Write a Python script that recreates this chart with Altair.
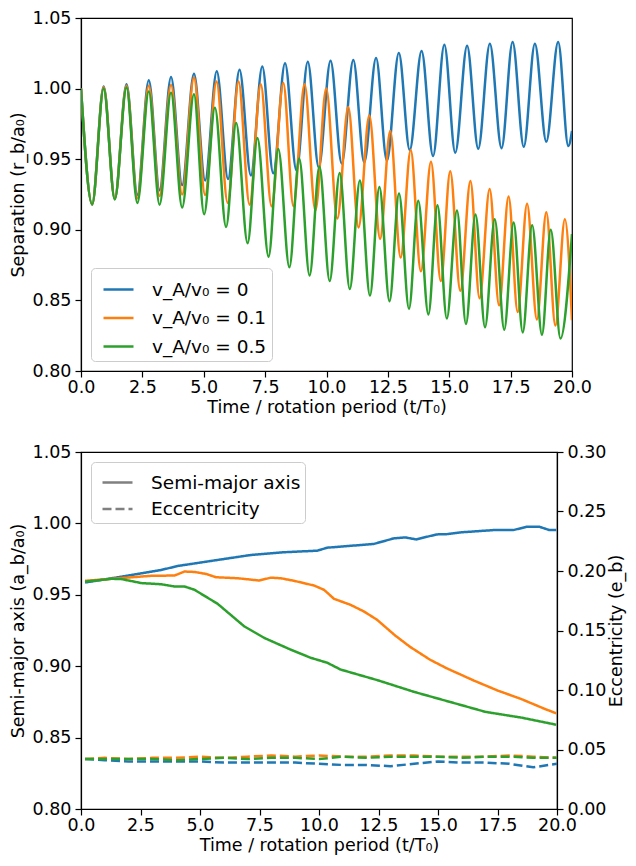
import altair as alt
import pandas as pd

FONT = "DejaVu Sans"
series_labels = ["v_A/v₀ = 0", "v_A/v₀ = 0.1", "v_A/v₀ = 0.5"]
colors = ["#1f77b4", "#ff7f0e", "#2ca02c"]
kinds = ["Semi-major axis", "Eccentricity"]
x_ticks = [0, 2.5, 5, 7.5, 10, 12.5, 15, 17.5, 20]
sep_ticks = [0.80, 0.85, 0.90, 0.95, 1.00, 1.05]
ecc_ticks = [0.0, 0.05, 0.10, 0.15, 0.20, 0.25, 0.30]

# --- Top panel: separation (peaks / troughs) ---
sep_t_0 = [0, 0.453, 0.923, 1.376, 1.854, 2.295, 2.761, 3.20, 3.667, 4.12,
           4.602, 5.056, 5.530, 5.99, 6.457, 6.92, 7.384, 7.83, 8.311, 8.776,
           9.238, 9.683, 10.165, 10.618, 11.092, 11.537, 12.019, 12.46, 12.946, 13.39,
           13.873, 14.34, 14.80, 15.245, 15.727, 16.18, 16.654, 17.13, 17.581, 18.035,
           18.488, 18.953, 19.436, 19.85, 20.0]
sep_v_0 = [1.0, 0.918, 1.0014, 0.922, 1.003, 0.9247, 1.006, 0.928, 1.0083, 0.9316,
           1.0106, 0.935, 1.0122, 0.936, 1.0133, 0.9385, 1.0157, 0.940, 1.018, 0.942,
           1.019, 0.9443, 1.0197, 0.947, 1.0203, 0.9477, 1.0217, 0.9489, 1.0253, 0.9565,
           1.0267, 0.9523, 1.031, 0.9546, 1.0304, 0.9574, 1.0318, 0.9578, 1.033, 0.9588,
           1.0318, 0.9625, 1.033, 0.9593, 0.970]

sep_t_1 = [0, 0.453, 0.923, 1.376, 1.854, 2.295, 2.761, 3.20, 3.667, 4.12,
           4.602, 5.056, 5.52, 5.975, 6.415, 6.868, 7.32, 7.763, 8.24, 8.653,
           9.106, 9.547, 9.988, 10.44, 10.886, 11.306, 11.743, 12.184, 12.596, 13.02,
           13.43, 13.844, 14.256, 14.656, 15.04, 15.45, 15.863, 16.234, 16.646, 17.03,
           17.417, 17.787, 18.17, 18.57, 18.954, 19.324, 19.71, 20.0]
sep_v_1 = [1.0, 0.918, 1.001, 0.922, 1.002, 0.9224, 1.002, 0.924, 1.0025, 0.925,
           1.0078, 0.9247, 1.005, 0.919, 1.005, 0.9178, 1.003, 0.9167, 1.004, 0.9167,
           1.003, 0.9137, 1.0, 0.908, 0.987, 0.9017, 0.981, 0.8936, 0.970, 0.8803,
           0.9565, 0.8706, 0.9482, 0.8637, 0.9415, 0.8568, 0.9346, 0.8515, 0.9289, 0.8465,
           0.9236, 0.8418, 0.9185, 0.8365, 0.9125, 0.8322, 0.9075, 0.836]

sep_t_2 = [0, 0.453, 0.923, 1.376, 1.854, 2.295, 2.761, 3.20, 3.667, 4.12,
           4.602, 5.015, 5.455, 5.909, 6.32, 6.786, 7.186, 7.64, 8.035, 8.488,
           8.888, 9.312, 9.712, 10.13, 10.536, 10.948, 11.36, 11.77, 12.155, 12.567,
           12.954, 13.36, 13.737, 14.15, 14.52, 14.90, 15.315, 15.68, 16.07, 16.457,
           16.852, 17.24, 17.623, 17.993, 18.377, 18.776, 19.135, 19.53, 20.0]
sep_v_2 = [1.0, 0.918, 1.0, 0.9215, 1.0007, 0.919, 0.998, 0.9178, 0.997, 0.9158,
           0.996, 0.911, 0.9864, 0.902, 0.9756, 0.8905, 0.965, 0.881, 0.9572, 0.8734,
           0.9505, 0.8676, 0.9448, 0.8637, 0.9402, 0.858, 0.935, 0.8534, 0.9303, 0.8494,
           0.9257, 0.8441, 0.9206, 0.840, 0.9174, 0.8372, 0.9137, 0.8333, 0.9109, 0.831,
           0.9075, 0.8292, 0.9052, 0.8273, 0.9033, 0.8257, 0.9001, 0.823, 0.897]

# --- Bottom panel: semi-major axis ---
sma_t_0 = [0.17, 1.56, 3.37, 4.07, 5.74, 7.14, 8.53, 9.93, 10.35, 12.3, 13.14,
           13.62, 14.08, 14.95, 15.4, 15.93, 17.32, 18.16, 18.72, 19.27, 19.69, 19.97]
sma_v_0 = [0.9586, 0.9623, 0.9674, 0.9702, 0.9744, 0.9779, 0.9798, 0.9809, 0.983, 0.9856, 0.9895,
           0.9902, 0.9888, 0.9923, 0.9925, 0.9937, 0.9953, 0.9953, 0.9976, 0.9976, 0.9953, 0.9953]
sma_t_1 = [0.17, 1.28, 2.95, 3.93, 4.35, 4.77, 5.26, 5.67, 6.58, 7.49, 7.97, 8.39,
           8.95, 9.79, 10.21, 10.63, 11.32, 11.88, 12.44, 13.2, 13.83, 14.67, 15.37,
           16.5, 17.5, 18.5, 19.5, 19.97]
sma_v_1 = [0.9598, 0.9612, 0.9633, 0.9635, 0.9663, 0.966, 0.9646, 0.9623, 0.9616, 0.96, 0.962, 0.9616,
           0.9598, 0.9565, 0.9535, 0.9472, 0.943, 0.9384, 0.9325, 0.9215, 0.9135, 0.9045, 0.8985,
           0.890, 0.883, 0.877, 0.870, 0.867]
sma_t_2 = [0.17, 1.28, 1.7, 2.54, 3.37, 3.93, 4.35, 4.77, 5.74, 6.86, 7.7, 8.81,
           9.65, 10.35, 10.9, 12.5, 14.0, 15.5, 17.0, 18.5, 19.97]
sma_v_2 = [0.9592, 0.9612, 0.961, 0.9582, 0.9574, 0.9558, 0.9558, 0.9535, 0.9437, 0.9279, 0.9198, 0.9116,
           0.9059, 0.9024, 0.8977, 0.890, 0.882, 0.875, 0.868, 0.864, 0.859]

# --- Bottom panel: eccentricity ---
ecc_t = [0.17, 1, 2, 3, 4, 5, 6, 7, 8, 9, 10, 11, 12, 13, 14, 15, 16, 17, 18, 19, 20]
ecc_v_0 = [0.042, 0.041, 0.040, 0.040, 0.040, 0.040, 0.039, 0.039, 0.039, 0.039, 0.038,
           0.037, 0.037, 0.036, 0.038, 0.040, 0.039, 0.039, 0.038, 0.035, 0.038]
ecc_v_1 = [0.042, 0.043, 0.042, 0.043, 0.043, 0.044, 0.043, 0.044, 0.045, 0.044, 0.045,
           0.044, 0.044, 0.045, 0.045, 0.044, 0.044, 0.044, 0.045, 0.044, 0.043]
ecc_v_2 = [0.042, 0.042, 0.042, 0.042, 0.041, 0.042, 0.043, 0.042, 0.043, 0.043, 0.042,
           0.044, 0.043, 0.044, 0.044, 0.044, 0.043, 0.044, 0.044, 0.043, 0.043]


def long_table(ts_list, vs_list, value_name, kind=None):
    rows = []
    for lab, ts, vs in zip(series_labels, ts_list, vs_list):
        for t, v in zip(ts, vs):
            r = {"t": t, value_name: v, "run": lab}
            if kind is not None:
                r["kind"] = kind
            rows.append(r)
    return pd.DataFrame(rows)


df_sep = long_table([sep_t_0, sep_t_1, sep_t_2], [sep_v_0, sep_v_1, sep_v_2], "v")
df_sma = long_table([sma_t_0, sma_t_1, sma_t_2], [sma_v_0, sma_v_1, sma_v_2], "a", kinds[0])
df_ecc = long_table([ecc_t, ecc_t, ecc_t], [ecc_v_0, ecc_v_1, ecc_v_2], "e", kinds[1])

x_enc = alt.X("t:Q", scale=alt.Scale(domain=[0, 20], nice=False, zero=False),
              axis=alt.Axis(values=x_ticks, format=".1f", labelFlush=False,
                            labelOverlap=False, labelPadding=1, titlePadding=3,
                            title="Time / rotation period (t/T₀)"))
color_scale = alt.Scale(domain=series_labels, range=colors)
LW = 2.5

top = alt.Chart(df_sep).mark_line(strokeWidth=LW, interpolate="monotone", clip=True).encode(
    x=x_enc,
    y=alt.Y("v:Q", scale=alt.Scale(domain=[0.80, 1.05], nice=False, zero=False),
            axis=alt.Axis(values=sep_ticks, format=".2f", titlePadding=5,
                          title="Separation (r_b/a₀)")),
    color=alt.Color("run:N", scale=color_scale, sort=series_labels,
                    legend=alt.Legend(title=None, orient="bottom-left", offset=10,
                                      rowPadding=2.5, symbolStrokeWidth=LW)),
).properties(width=491, height=353)

dash_scale = alt.Scale(domain=kinds, range=[[1, 0], [9, 4]])

a_line = alt.Chart(df_sma).mark_line(strokeWidth=LW, clip=True).encode(
    x=x_enc,
    y=alt.Y("a:Q", scale=alt.Scale(domain=[0.80, 1.05], nice=False, zero=False),
            axis=alt.Axis(values=sep_ticks, format=".2f", orient="left", titlePadding=5,
                          title="Semi-major axis (a_b/a₀)")),
    color=alt.Color("run:N", scale=color_scale, sort=series_labels, legend=None),
    strokeDash=alt.StrokeDash("kind:N", scale=dash_scale, sort=kinds,
                              legend=alt.Legend(title=None, orient="top-left", offset=10,
                                                rowPadding=0.5, padding=4,
                                                symbolStrokeColor="#808080",
                                                symbolStrokeWidth=LW)),
)
e_line = alt.Chart(df_ecc).mark_line(strokeWidth=LW, clip=True).encode(
    x=x_enc,
    y=alt.Y("e:Q", scale=alt.Scale(domain=[0.0, 0.30], nice=False, zero=False),
            axis=alt.Axis(values=ecc_ticks, format=".2f", orient="right",
                          titlePadding=2, titleAngle=270, titleBaseline="top",
                          title="Eccentricity (e_b)")),
    color=alt.Color("run:N", scale=color_scale, sort=series_labels, legend=None),
    strokeDash=alt.StrokeDash("kind:N", scale=dash_scale, sort=kinds),
)
bottom = alt.layer(a_line, e_line).resolve_scale(y="independent").properties(width=476, height=357)

chart = alt.vconcat(top, bottom, spacing=25).resolve_scale(
    color="independent", strokeDash="independent"
).properties(
    padding={"left": 0, "top": 0, "right": 0, "bottom": 0}
).configure(font=FONT).configure_view(
    stroke="black", strokeWidth=1.2
).configure_axis(
    labelFont=FONT, titleFont=FONT, labelFontSize=17.5, titleFontSize=17.5,
    titleFontWeight="normal", labelColor="black", titleColor="black",
    tickColor="black", domainColor="black", tickSize=6, tickWidth=1.2,
    domainWidth=1.2, labelPadding=4, grid=False
).configure_legend(
    labelFont=FONT, labelFontSize=18.5, labelColor="black",
    symbolType="stroke", symbolSize=900, symbolOffset=6, labelOffset=17,
    padding=5, fillColor="white", strokeColor="#cccccc",
    cornerRadius=4
)

chart.save("out.html", embed_options={"renderer": "svg", "actions": False})
